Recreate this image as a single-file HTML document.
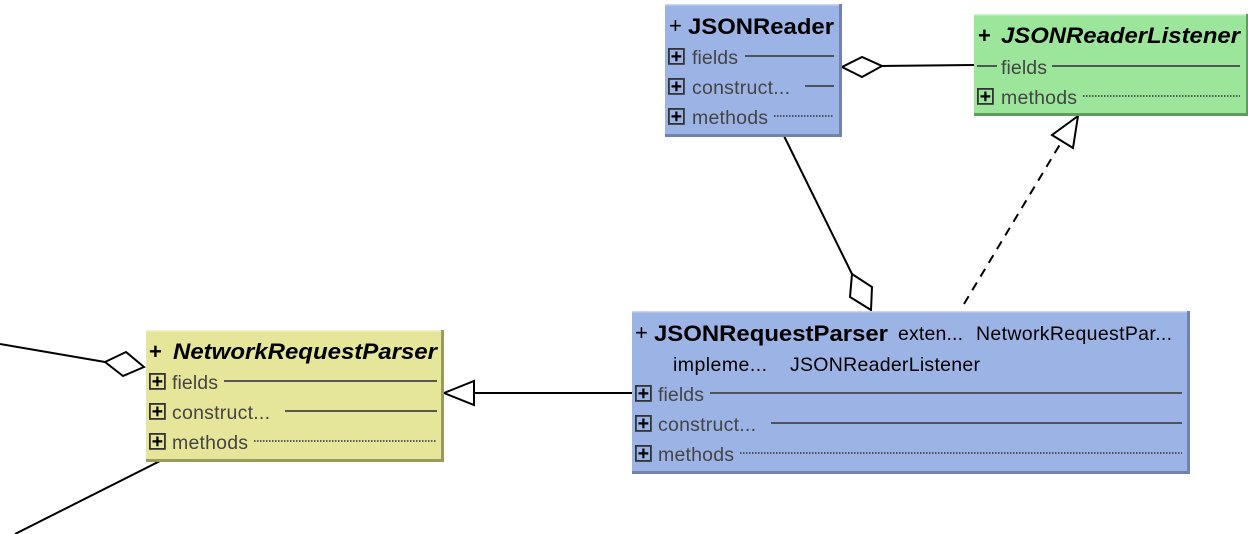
<!DOCTYPE html>
<html><head><meta charset="utf-8"><style>
html,body{margin:0;padding:0;background:#fff;width:1248px;height:534px;overflow:hidden}
svg text{font-family:"Liberation Sans",Arial,sans-serif}
.t{font-size:22px;fill:#000}
.r{font-size:19.5px;fill:#444}
.ln{stroke:#444;stroke-width:1.8}
.dt{stroke:#444;stroke-width:1.8;stroke-dasharray:1.5 1.5}
.pb{fill:none;stroke:#333;stroke-width:1.8}
</style></head><body>
<svg width="1248" height="534" xmlns="http://www.w3.org/2000/svg">
<defs>
<g id="plus"><rect x="0.9" y="0.9" width="15" height="15" class="pb"/><path d="M3.5 8.4h9.8M8.4 3.5v9.8" stroke="#000" stroke-width="2.2"/></g>
</defs>
<g stroke="#000" stroke-width="2" fill="#fff">
<line x1="0" y1="344" x2="105" y2="362"/>
<polygon points="105,362 126,352 144,367 123,376"/>
<line x1="160" y1="461" x2="15" y2="534"/>
<line x1="474" y1="393" x2="632" y2="393"/>
<polygon points="444,393 474,381 474,405"/>
<line x1="882" y1="66" x2="974" y2="65"/>
<polygon points="842,67 862,57 882,66 862,77"/>
<line x1="784" y1="136" x2="852" y2="274"/>
<polygon points="852,274 872,287 871,310 850,297"/>
<line x1="964" y1="304" x2="1062" y2="141" stroke-dasharray="9 7"/>
<polygon points="1078,116 1052,135 1073,148"/>
</g>
<!-- JSONReader -->
<rect x="665" y="4" width="177" height="133" fill="#6f83ad"/>
<rect x="665" y="4" width="174" height="130" fill="#9cb3e6"/>
<rect x="665" y="4" width="174" height="1.5" fill="#c8d6f3"/>
<text x="669" y="33" class="t">+</text><text x="688" y="34" class="t" font-weight="bold" textLength="146" lengthAdjust="spacingAndGlyphs">JSONReader</text>
<use href="#plus" x="668" y="48"/><text x="692" y="64" class="r" textLength="46">fields</text><line x1="745" y1="56" x2="834" y2="56" class="ln"/>
<use href="#plus" x="668" y="78"/><text x="692" y="94" class="r" textLength="98">construct...</text><line x1="805" y1="86" x2="834" y2="86" class="ln"/>
<use href="#plus" x="668" y="108"/><text x="692" y="124" class="r" textLength="76">methods</text><line x1="774" y1="116" x2="834" y2="116" class="dt"/>
<!-- JSONReaderListener -->
<rect x="974" y="14" width="274" height="102" fill="#5f9a5f"/>
<rect x="974" y="14" width="272" height="99" fill="#9be69b"/>
<rect x="974" y="14" width="272" height="1.5" fill="#c9f3c9"/>
<text x="978" y="43" class="t" font-weight="bold">+</text><text x="1001" y="43" class="t" font-weight="bold" font-style="italic" textLength="239" lengthAdjust="spacingAndGlyphs">JSONReaderListener</text>
<line x1="977" y1="66" x2="997" y2="66" class="ln"/><text x="1001" y="74" class="r" textLength="46">fields</text><line x1="1052" y1="66" x2="1240" y2="66" class="ln"/>
<use href="#plus" x="977" y="88"/><text x="1001" y="104" class="r" textLength="76">methods</text><line x1="1083" y1="96" x2="1240" y2="96" class="dt"/>
<!-- JSONRequestParser -->
<rect x="632" y="311" width="558" height="163" fill="#6f83ad"/>
<rect x="632" y="311" width="555" height="160" fill="#9cb3e6"/>
<rect x="632" y="311" width="555" height="1.5" fill="#c8d6f3"/>
<text x="635" y="340" class="t">+</text><text x="654" y="341" class="t" font-weight="bold" textLength="234" lengthAdjust="spacingAndGlyphs">JSONRequestParser</text>
<text x="898" y="340" class="r" style="fill:#000" textLength="65">exten...</text>
<text x="976" y="340" class="r" style="fill:#000" textLength="196">NetworkRequestPar...</text>
<text x="673" y="371" class="r" style="fill:#000" textLength="94">impleme...</text>
<text x="790" y="371" class="r" style="fill:#000" textLength="190">JSONReaderListener</text>
<use href="#plus" x="635" y="385"/><text x="658" y="401" class="r" textLength="46">fields</text><line x1="710" y1="393" x2="1182" y2="393" class="ln"/>
<use href="#plus" x="635" y="415"/><text x="658" y="431" class="r" textLength="98">construct...</text><line x1="771" y1="423" x2="1182" y2="423" class="ln"/>
<use href="#plus" x="635" y="445"/><text x="658" y="461" class="r" textLength="76">methods</text><line x1="740" y1="453" x2="1182" y2="453" class="dt"/>
<!-- NetworkRequestParser -->
<rect x="146" y="330" width="298" height="132" fill="#9a9a5f"/>
<rect x="146" y="330" width="295" height="129" fill="#e6e69b"/>
<rect x="146" y="330" width="295" height="1.5" fill="#f3f3c9"/>
<text x="149" y="359" class="t" font-weight="bold">+</text><text x="173" y="359" class="t" font-weight="bold" font-style="italic" textLength="264" lengthAdjust="spacingAndGlyphs">NetworkRequestParser</text>
<use href="#plus" x="149" y="373"/><text x="172" y="389" class="r" textLength="46">fields</text><line x1="224" y1="381" x2="437" y2="381" class="ln"/>
<use href="#plus" x="149" y="403"/><text x="172" y="419" class="r" textLength="98">construct...</text><line x1="285" y1="411" x2="437" y2="411" class="ln"/>
<use href="#plus" x="149" y="433"/><text x="172" y="449" class="r" textLength="76">methods</text><line x1="254" y1="441" x2="437" y2="441" class="dt"/>
</svg>
</body></html>
